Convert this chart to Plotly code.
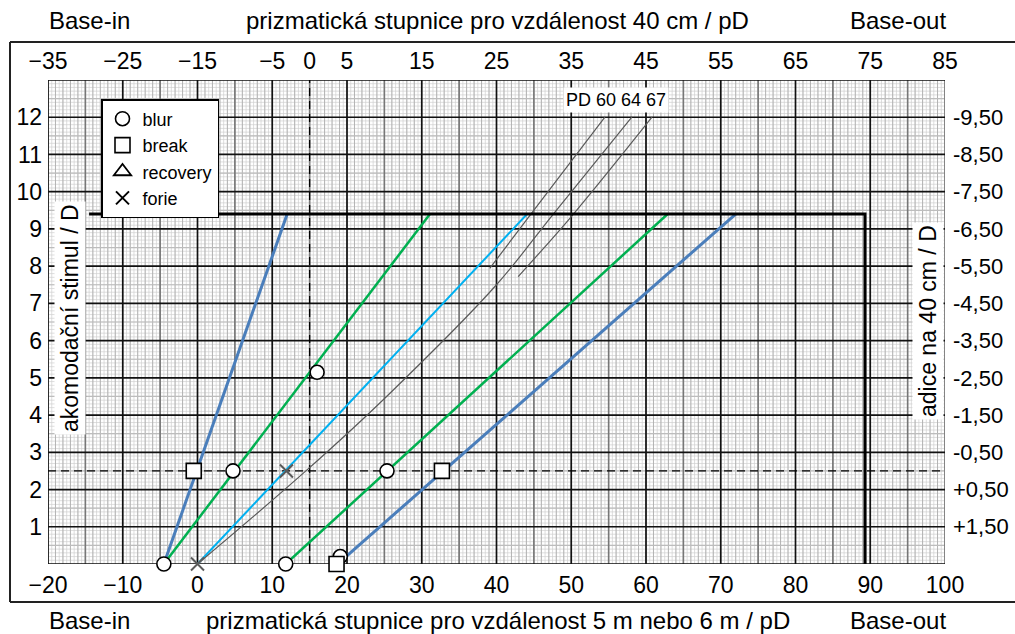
import plotly.graph_objects as go
import numpy as np

# ---------------- data ----------------
line_y = [0.0, 9.4]
bi_break_x = [-4.5, 12.0]          # blue base-in line
bi_blur_x = [-4.5, 31.1]           # green base-in line
phoria_x = [0.0, 44.1]             # light-blue line
bo_blur_x = [11.8, 62.9]           # green base-out line
bo_break_x = [19.3, 72.0]          # blue base-out line
bo_break_y = [0.1, 9.4]

pd64_x = [0.0, 14.5, 25.3, 40.0, 47.6, 58.1]
pd64_y = [0.0, 2.5, 4.5, 7.5, 9.4, 12.0]
pd60_x = [39.1, 44.6, 54.5]
pd60_y = [7.94, 9.4, 12.0]
pd67_x = [42.9, 50.3, 60.8]
pd67_y = [7.72, 9.4, 12.0]

blur_x = [-4.5, 4.75, 16.0, 11.8, 25.35, 19.1]
blur_y = [0.0, 2.5, 5.15, 0.0, 2.5, 0.2]
break_x = [-0.5, 32.7, 18.6]
break_y = [2.5, 2.5, 0.0]
forie_x = [0.0, 11.9]
forie_y = [0.0, 2.5]

limit_x = [-14.5, 89.3, 89.3]
limit_y = [9.4, 9.4, 0.0]

ref_stimulus = 2.5   # dashed horizontal
ref_prism = 15.0     # dashed vertical

bottom_ticks = list(range(-20, 101, 10))
top_ticks = [-35, -25, -15, -5, 0, 5, 15, 25, 35, 45, 55, 65, 75, 85]
left_ticks = list(range(1, 13))
right_ticklabels = ["+1,50", "+0,50", "-0,50", "-1,50", "-2,50", "-3,50",
                    "-4,50", "-5,50", "-6,50", "-7,50", "-8,50", "-9,50"]

X0, X1 = -20, 100
Y0, Y1 = 0, 13
FONT = "Liberation Sans, Arial, sans-serif"

# plot area in pixels
L, R, T, B = 48, 945, 80, 564
W, H = 1015, 634


def px(p):
    return (p - L) / (R - L)


def py(p):
    return (B - p) / (B - T)


fig = go.Figure()

BLUE = "#4a7ebb"
GREEN = "#00b050"
LBLUE = "#00b0f0"
GRAY = "#5a5a5a"

fig.add_trace(go.Scatter(x=bi_break_x, y=line_y, mode="lines",
                         line=dict(color=BLUE, width=3), showlegend=False, hoverinfo="skip"))
fig.add_trace(go.Scatter(x=bi_blur_x, y=line_y, mode="lines",
                         line=dict(color=GREEN, width=2.5), showlegend=False, hoverinfo="skip"))
fig.add_trace(go.Scatter(x=phoria_x, y=line_y, mode="lines",
                         line=dict(color=LBLUE, width=2), showlegend=False, hoverinfo="skip"))
fig.add_trace(go.Scatter(x=bo_blur_x, y=line_y, mode="lines",
                         line=dict(color=GREEN, width=2.5), showlegend=False, hoverinfo="skip"))
fig.add_trace(go.Scatter(x=bo_break_x, y=bo_break_y, mode="lines",
                         line=dict(color=BLUE, width=3), showlegend=False, hoverinfo="skip"))
for xs, ys in [(pd60_x, pd60_y), (pd64_x, pd64_y), (pd67_x, pd67_y)]:
    fig.add_trace(go.Scatter(x=xs, y=ys, mode="lines", line_shape="spline",
                             line=dict(color=GRAY, width=1.2), showlegend=False, hoverinfo="skip"))
fig.add_trace(go.Scatter(x=limit_x, y=limit_y, mode="lines",
                         line=dict(color="black", width=3), showlegend=False, hoverinfo="skip"))

fig.add_trace(go.Scatter(x=blur_x, y=blur_y, mode="markers", name="blur", cliponaxis=False,
                         marker=dict(symbol="circle", size=14, color="white",
                                     line=dict(color="black", width=1.6))))
fig.add_trace(go.Scatter(x=break_x, y=break_y, mode="markers", name="break", cliponaxis=False,
                         marker=dict(symbol="square", size=15, color="white",
                                     line=dict(color="black", width=1.6))))
fig.add_trace(go.Scatter(x=[None], y=[None], mode="markers", name="recovery",
                         marker=dict(symbol="triangle-up", size=15, color="white",
                                     line=dict(color="black", width=1.8))))
fig.add_trace(go.Scatter(x=[None], y=[None], mode="markers", name="forie",
                         marker=dict(symbol="x-thin", size=13, color="black",
                                     line=dict(color="black", width=2))))
fig.add_trace(go.Scatter(x=forie_x, y=forie_y, mode="markers", name="forie", cliponaxis=False,
                         showlegend=False, hoverinfo="skip",
                         marker=dict(symbol="x-thin", size=13, color=GRAY,
                                     line=dict(color=GRAY, width=2))))

# secondary (scale-only) axes
fig.add_trace(go.Scatter(x=[X0 - 15, X1 - 15], y=[None, None], xaxis="x2", yaxis="y",
                         showlegend=False, hoverinfo="skip"))
fig.add_trace(go.Scatter(x=[X0], y=[None], xaxis="x", yaxis="y2",
                         showlegend=False, hoverinfo="skip"))

shapes = []


def vline(x, color, width, dash="solid"):
    shapes.append(dict(type="line", xref="x", yref="y", x0=x, x1=x, y0=Y0, y1=Y1,
                       line=dict(color=color, width=width, dash=dash), layer="below"))


def hline(y, color, width, dash="solid"):
    shapes.append(dict(type="line", xref="x", yref="y", x0=X0, x1=X1, y0=y, y1=y,
                       line=dict(color=color, width=width, dash=dash), layer="below"))


# finest grid
for v in np.arange(X0, X1 + 0.01, 0.5):
    vline(float(v), "#d0d0d0", 0.7)
for v in np.arange(Y0, Y1 + 0.001, 0.1):
    hline(float(v), "#d0d0d0", 0.7)
# second level
for v in range(X0, X1 + 1):
    vline(v, "#aaaaaa", 0.8)
for v in np.arange(Y0 + 0.5, Y1, 1.0):
    hline(float(v), "#bdbdbd", 1.2)
# 5 pD lines
for v in range(X0 + 5, X1, 10):
    vline(v, "#777777", 1.6)
# 10 pD lines and 1 D lines
for v in range(X0, X1 + 1, 10):
    vline(v, "#111111" if v != X1 else "#777777", 1.7)
for v in range(Y0, Y1 + 1):
    hline(v, "#111111", 1.7)

# dashed references
shapes.append(dict(type="line", xref="x", yref="y", x0=ref_prism, x1=ref_prism, y0=Y0, y1=Y1,
                   line=dict(color="black", width=1.3, dash="8px,5px"), layer="below"))
shapes.append(dict(type="line", xref="x", yref="y", x0=X0, x1=X1, y0=ref_stimulus, y1=ref_stimulus,
                   line=dict(color="black", width=1.3, dash="8px,5px"), layer="below"))

# outer frame
fx0, fx1 = px(10), px(1016)
fy0, fy1 = py(602), py(42)
shapes.append(dict(type="line", xref="paper", yref="paper", x0=fx0, x1=fx1, y0=fy1, y1=fy1,
                   line=dict(color="#222222", width=2)))
shapes.append(dict(type="line", xref="paper", yref="paper", x0=fx0, x1=fx1, y0=fy0, y1=fy0,
                   line=dict(color="#222222", width=2)))
shapes.append(dict(type="line", xref="paper", yref="paper", x0=fx0, x1=fx0, y0=fy0, y1=fy1,
                   line=dict(color="#222222", width=2)))

annotations = []


def text(x, y, s, size=24, **kw):
    annotations.append(dict(xref="paper", yref="paper", x=px(x), y=py(y), text=s,
                            showarrow=False, font=dict(family=FONT, size=size, color="black"),
                            xanchor="center", yanchor="middle", **kw))


text(89, 21, "Base-in")
text(497, 21, "prizmatická stupnice pro vzdálenost 40 cm / pD")
text(898, 21, "Base-out")
text(89, 620, "Base-in")
text(498, 620, "prizmatická stupnice pro vzdálenost 5 m nebo 6 m / pD")
text(898, 620, "Base-out")
text(70, 318, "akomodační stimul / D", size=23, textangle=-90, bgcolor="white", borderpad=2)
text(928, 321, "adice na 40 cm / D", size=23, textangle=-90, bgcolor="white", borderpad=2)
text(616, 100, "PD 60 64 67", size=18, bgcolor="white", borderpad=2)

tickfont = dict(family=FONT, size=23, color="black")
rightfont = dict(family=FONT, size=22, color="black")

fig.update_layout(
    width=W, height=H,
    margin=dict(l=L, r=W - R, t=T, b=H - B, pad=0, autoexpand=False),
    paper_bgcolor="white", plot_bgcolor="white",
    font=dict(family=FONT, color="black"),
    shapes=shapes, annotations=annotations,
    xaxis=dict(range=[X0, X1], tickvals=bottom_ticks, ticks="", showgrid=False, automargin=False,
               zeroline=False, showline=False, tickfont=tickfont, ticklabelstandoff=5),
    xaxis2=dict(range=[X0 - 15, X1 - 15], tickvals=top_ticks, overlaying="x", side="top",
                anchor="y", ticks="", showgrid=False, zeroline=False, showline=False,
                automargin=False, tickfont=tickfont, ticklabelstandoff=5),
    yaxis=dict(range=[Y0, Y1], tickvals=left_ticks, ticks="", showgrid=False, automargin=False,
               zeroline=False, showline=False, tickfont=tickfont, ticklabelstandoff=5),
    yaxis2=dict(range=[Y0, Y1], tickvals=left_ticks, ticktext=right_ticklabels,
                overlaying="y", side="right", anchor="x", ticks="", showgrid=False,
                zeroline=False, showline=False, automargin=False, tickfont=rightfont,
                ticklabelstandoff=7),
    legend=dict(x=px(101), y=py(99), xanchor="left", yanchor="top",
                bgcolor="white", bordercolor="black", borderwidth=1.5,
                font=dict(family=FONT, size=18, color="black"),
                tracegroupgap=0, itemwidth=30),
    showlegend=True,
)

fig.write_html("out.html")
